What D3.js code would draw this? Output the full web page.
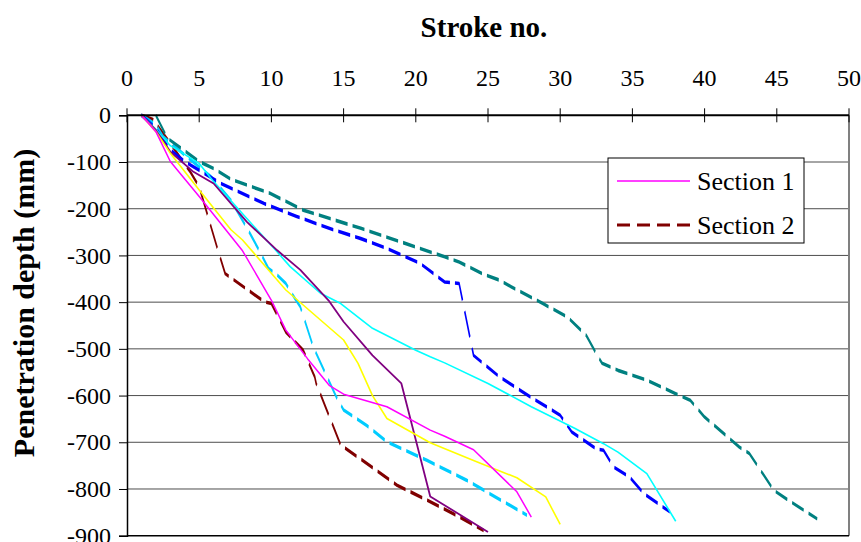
<!DOCTYPE html>
<html>
<head>
<meta charset="utf-8">
<script src="https://cdn.jsdelivr.net/npm/d3@7"></script>
<style>
  body { margin: 0; background: #fff; }
  svg { display: block; }
  text { font-family: "Liberation Serif", "Times New Roman", serif; fill: #000; }
</style>
</head>
<body>
<script>
// Axis ticks
const strokeTicks = [0, 5, 10, 15, 20, 25, 30, 35, 40, 45, 50];
const depthTicks = [0, -100, -200, -300, -400, -500, -600, -700, -800, -900];

// Penetration records: [stroke no., depth in mm]
const magentaSolid = [[1,0],[2,-35],[3,-99],[5,-174],[8,-290],[10,-396],[11,-460],[12.5,-521],[14,-578],[15,-597],[18,-624],[21,-674],[22,-687],[24,-716],[27,-806],[28,-860]];
const yellowSolid = [[1,0],[2,-35],[3,-81],[5,-160],[7.2,-245],[8,-267],[11,-374],[15,-481],[16,-531],[17,-600],[18,-649],[21,-701],[24,-739],[27,-776],[29,-817],[30,-876]];
const purpleSolid = [[1,0],[2,-32],[3,-78],[4.6,-121],[6,-146],[8.3,-228],[10.4,-289],[12,-331],[14,-398],[15,-442],[17,-514],[19,-574],[21,-816],[25,-892]];
const cyanSolid = [[1,0],[2,-30],[3,-65],[5,-103],[6,-142],[8.3,-221],[10.3,-289],[11.3,-324],[13.4,-381],[14.8,-403],[17,-456],[20,-503],[21,-517],[22,-530],[25,-574],[28,-624],[31,-670],[33,-703],[34,-721],[36,-767],[38,-869]];
const skyDashed = [[1,0],[2,-20],[2.5,-46],[4,-85],[5.8,-131],[7.2,-182],[8.5,-252],[9.2,-292],[9.8,-328],[10.3,-339],[11,-360],[11.4,-381],[12,-410],[12.9,-496],[14.5,-603],[15,-631],[16.6,-664],[18,-699],[20.8,-739],[23.5,-781],[26.3,-831],[27.7,-856]];
const blueDashed = [[1,0],[2,-28],[3,-74],[4,-99],[6.5,-146],[9.5,-189],[11.8,-217],[14,-242],[16.2,-264],[18,-285],[20.3,-317],[22,-357],[23,-360],[24,-514],[25.8,-560],[28.1,-606],[30,-642],[30.8,-678],[32.5,-714],[33,-717],[33.7,-753],[34.8,-774],[35.8,-810],[37.6,-849]];
const tealDashed = [[2,0],[2.8,-49],[5,-99],[6,-114],[7.2,-137],[9.9,-167],[12.2,-203],[16.2,-242],[20.3,-285],[22,-303],[23,-314],[24.6,-339],[25.8,-353],[26.6,-367],[28.8,-403],[30.5,-432],[31.8,-471],[32.5,-510],[32.9,-531],[34,-546],[36,-567],[38,-596],[39,-610],[40,-646],[42.4,-710],[43.1,-724],[44.8,-803],[46,-828],[47.8,-864]];
const darkRedDashed = [[1,0],[1.8,-9],[3,-60],[4.4,-122],[5,-153],[6.3,-289],[6.8,-339],[9.5,-399],[10,-403],[11,-464],[12.2,-503],[13,-560],[13.1,-574],[14.8,-706],[16,-732],[18.7,-792],[20.8,-824],[22.6,-853],[24.7,-889]];

const legendLabels = ["Section 1", "Section 2"];

const W = 861, H = 542;
const plot = { left: 127, right: 849, top: 115.3, bottom: 535.7 };

const x = d3.scaleLinear().domain([0, 50]).range([plot.left, plot.right]);
const y = d3.scaleLinear().domain([0, -900]).range([plot.top, plot.bottom]);

const svg = d3.select("body").append("svg")
  .attr("width", W).attr("height", H);

// Horizontal gridlines
svg.append("g").selectAll("line")
  .data(depthTicks.slice(1, -1))
  .join("line")
  .attr("x1", plot.left).attr("x2", plot.right)
  .attr("y1", d => y(d)).attr("y2", d => y(d))
  .attr("stroke", "#4d4d4d").attr("stroke-width", 1);

// Right and bottom frame
svg.append("line")
  .attr("x1", plot.right).attr("x2", plot.right)
  .attr("y1", plot.top).attr("y2", plot.bottom)
  .attr("stroke", "#808080").attr("stroke-width", 2);
svg.append("line")
  .attr("x1", plot.left).attr("x2", plot.right)
  .attr("y1", plot.bottom).attr("y2", plot.bottom)
  .attr("stroke", "#000").attr("stroke-width", 1.5);

// Dashed series: drawn in a vertically stretched frame so shallow strokes come out heavier
const K = 2.4;
const yLocal = d3.scaleLinear().domain([0, -900]).range([0, (plot.bottom - plot.top) / K]);
const dashedLine = d3.line().x(d => x(d[0])).y(d => yLocal(d[1]));
const dashedGroup = svg.append("g")
  .attr("transform", `translate(0,${plot.top}) scale(1,${K})`);

const dashedSeries = [
  { data: darkRedDashed, color: "#800000" },
  { data: skyDashed, color: "#00ccff" },
  { data: blueDashed, color: "#0000ff" },
  { data: tealDashed, color: "#008080" }
];
dashedGroup.selectAll("path")
  .data(dashedSeries)
  .join("path")
  .attr("d", s => dashedLine(s.data))
  .attr("fill", "none")
  .attr("stroke", s => s.color)
  .attr("stroke-width", 1.5)
  .attr("stroke-dasharray", "12,5")
  .attr("stroke-linejoin", "round");

// Solid series
const solidLine = d3.line().x(d => x(d[0])).y(d => y(d[1]));
const solidSeries = [
  { data: cyanSolid, color: "#00ffff", width: 1.6 },
  { data: purpleSolid, color: "#800080", width: 1.8 },
  { data: yellowSolid, color: "#ffff00", width: 1.6 },
  { data: magentaSolid, color: "#ff00ff", width: 1.5 }
];
svg.append("g").selectAll("path")
  .data(solidSeries)
  .join("path")
  .attr("d", s => solidLine(s.data))
  .attr("fill", "none")
  .attr("stroke", s => s.color)
  .attr("stroke-width", s => s.width)
  .attr("stroke-linejoin", "round");

// Top (stroke) axis: ticks cross the zero line
const xAxis = svg.append("g");
xAxis.append("line")
  .attr("x1", plot.left).attr("x2", plot.right)
  .attr("y1", plot.top).attr("y2", plot.top)
  .attr("stroke", "#000").attr("stroke-width", 2);
xAxis.selectAll("line.tick")
  .data(strokeTicks)
  .join("line").attr("class", "tick")
  .attr("x1", d => x(d)).attr("x2", d => x(d))
  .attr("y1", plot.top - 7).attr("y2", plot.top + 7)
  .attr("stroke", "#000").attr("stroke-width", 1);
xAxis.selectAll("text")
  .data(strokeTicks)
  .join("text")
  .attr("x", d => x(d)).attr("y", 86)
  .attr("text-anchor", "middle")
  .attr("font-size", 24)
  .text(d => d);

// Left (depth) axis
const yAxis = d3.axisLeft(y).tickValues(depthTicks).tickSize(8).tickPadding(8)
  .tickFormat(d => d);
svg.append("g")
  .attr("transform", `translate(${plot.left},0)`)
  .call(yAxis)
  .call(g => g.attr("font-family", null))
  .call(g => g.select(".domain").attr("stroke", "#000").attr("stroke-width", 1.5))
  .call(g => g.selectAll(".tick line").attr("stroke", "#000"))
  .call(g => g.selectAll(".tick text")
    .attr("font-size", 24).attr("fill", "#000"));

// Axis titles
svg.append("text")
  .attr("x", 484).attr("y", 37)
  .attr("text-anchor", "middle")
  .attr("font-size", 29).attr("font-weight", "bold")
  .text("Stroke no.");
svg.append("text")
  .attr("transform", "translate(34,303) rotate(-90)")
  .attr("text-anchor", "middle")
  .attr("font-size", 30).attr("font-weight", "bold")
  .text("Penetration depth (mm)");

// Legend
const legend = svg.append("g");
legend.append("rect")
  .attr("x", 608).attr("y", 158).attr("width", 196).attr("height", 85)
  .attr("fill", "#fff").attr("stroke", "#000").attr("stroke-width", 1);
const legendStyles = [
  { color: "#ff00ff", dash: null, width: 1.5 },
  { color: "#800000", dash: "13,7", width: 3 }
];
const legendRows = [181, 225];
legend.selectAll("line")
  .data(legendLabels)
  .join("line")
  .attr("x1", 617).attr("x2", 690)
  .attr("y1", (d, i) => legendRows[i]).attr("y2", (d, i) => legendRows[i])
  .attr("stroke", (d, i) => legendStyles[i].color)
  .attr("stroke-width", (d, i) => legendStyles[i].width)
  .attr("stroke-dasharray", (d, i) => legendStyles[i].dash);
legend.selectAll("text")
  .data(legendLabels)
  .join("text")
  .attr("x", 697).attr("y", (d, i) => legendRows[i] + 9)
  .attr("font-size", 26)
  .text(d => d);
</script>
</body>
</html>
